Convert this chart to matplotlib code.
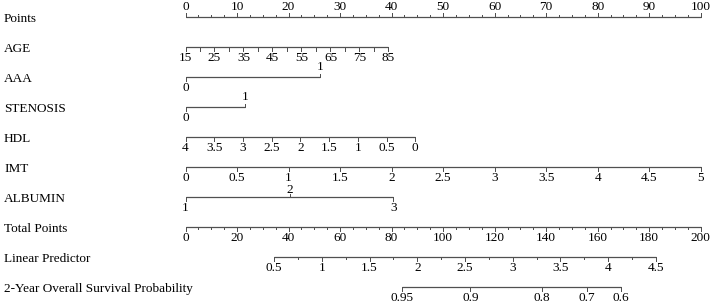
import numpy as np
import matplotlib.pyplot as plt

plt.rcParams['font.family'] = ['Liberation Serif', 'DejaVu Serif']

# nomogram data
row_names = ['Points', 'AGE', 'AAA', 'STENOSIS', 'HDL', 'IMT', 'ALBUMIN',
             'Total Points', 'Linear Predictor', '2-Year Overall Survival Probability']

points_labels = [0, 10, 20, 30, 40, 50, 60, 70, 80, 90, 100]

age_range = [15, 85]          # value at 0 points, value at max
age_points = [0, 39.4]
age_labels = [15, 25, 35, 45, 55, 65, 75, 85]

aaa_labels = [0, 1]
aaa_points = [0, 26.1]

stenosis_labels = [0, 1]
stenosis_points = [0, 11.55]

hdl_range = [4, 0]
hdl_points = [0, 44.6]
hdl_labels = [4, 3.5, 3, 2.5, 2, 1.5, 1, 0.5, 0]

imt_range = [0, 5]
imt_points = [0, 100]
imt_labels = [0, 0.5, 1, 1.5, 2, 2.5, 3, 3.5, 4, 4.5, 5]

albumin_labels = [1, 2, 3]
albumin_points = [0, 20.2, 40.35]

total_labels = [0, 20, 40, 60, 80, 100, 120, 140, 160, 180, 200]

lp_range = [0.5, 4.5]
lp_total = [34.4, 182.6]      # total points at lp_range ends
lp_labels = [0.5, 1, 1.5, 2, 2.5, 3, 3.5, 4, 4.5]

surv_labels = ['0.95', '0.9', '0.8', '0.7', '0.6']
surv_lp = [1.836, 2.556, 3.306, 3.775, 4.13]

# figure: x in points units, y in pixel rows
W, H = 713, 307
fig = plt.figure(figsize=(W / 100, H / 100), dpi=100)
ax = fig.add_axes([0, 0, 1, 1])
x0, ppp = 185.5, 5.152  # pixel of 0 points, pixels per point
ax.set_xlim(-x0 / ppp, (W - x0) / ppp)
ax.set_ylim(H, 0)
ax.axis('off')

row_y = [17.3 + 30 * i for i in range(len(row_names))]
lc = '#505050'
lw = 0.9
fs = 9.5


def draw_axis(y, pos, labels, up=None, minor=None, major_len=3.5, minor_len=2.0,
              off_up=10.5, off_down=11.0):
    # pos: x in points units, labels: text; up: list of bools (label above)
    if up is None:
        up = [False] * len(pos)
    ax.plot([min(pos), max(pos)], [y, y], color=lc, lw=lw, solid_capstyle='butt')
    if minor is not None:
        for m in minor:
            ax.plot([m, m], [y, y - minor_len if up[0] else y + minor_len], color=lc, lw=lw * 0.8)
    for p, t, u in zip(pos, labels, up):
        s = -1 if u else 1
        ax.plot([p, p], [y, y + s * major_len], color=lc, lw=lw * 0.8)
        ax.text(p, y + (-off_up if u else off_down), t, ha='center', va='center', fontsize=fs)


def lin(v, vr, pr):
    return np.interp(v, vr, pr) if vr[0] < vr[1] else np.interp(-np.asarray(v), [-vr[0], -vr[1]], pr)


name_x = (4 - x0) / ppp
for name, y in zip(row_names, row_y):
    ax.text(name_x, y + 2.0, name, ha='left', va='center', fontsize=fs)

# Points
draw_axis(row_y[0], points_labels, [str(v) for v in points_labels],
          up=[True] * len(points_labels), minor=np.arange(0, 100.1, 2.5), major_len=4.0)

# AGE
age_minor = np.arange(age_range[0], age_range[1] + 0.1, 5)
draw_axis(row_y[1], lin(age_labels, age_range, age_points), [str(v) for v in age_labels],
          minor=lin(age_minor, age_range, age_points), minor_len=3.5)

# AAA
draw_axis(row_y[2], aaa_points, [str(v) for v in aaa_labels], up=[False, True])

# STENOSIS
draw_axis(row_y[3], stenosis_points, [str(v) for v in stenosis_labels], up=[False, True])

# HDL
draw_axis(row_y[4], lin(hdl_labels, hdl_range, hdl_points), [f'{v:g}' for v in hdl_labels])

# IMT
draw_axis(row_y[5], lin(imt_labels, imt_range, imt_points), [f'{v:g}' for v in imt_labels])

# ALBUMIN
draw_axis(row_y[6], albumin_points, [str(v) for v in albumin_labels], up=[False, True, False],
          off_up=7.0)

# Total Points (0-200 on the 0-100 points scale)
draw_axis(row_y[7], [v / 2 for v in total_labels], [str(v) for v in total_labels],
          minor=np.arange(0, 200.1, 5) / 2, major_len=3.5)

# Linear Predictor
lp_pos = np.interp(lp_labels, lp_range, lp_total) / 2
lp_minor = np.interp(np.arange(0.5, 4.51, 0.25), lp_range, lp_total) / 2
draw_axis(row_y[8], lp_pos, [f'{v:g}' for v in lp_labels], minor=lp_minor)

# Survival
surv_pos = np.interp(surv_lp, lp_range, lp_total) / 2
draw_axis(row_y[9], surv_pos, surv_labels)

fig.savefig('out.png', dpi=100)
